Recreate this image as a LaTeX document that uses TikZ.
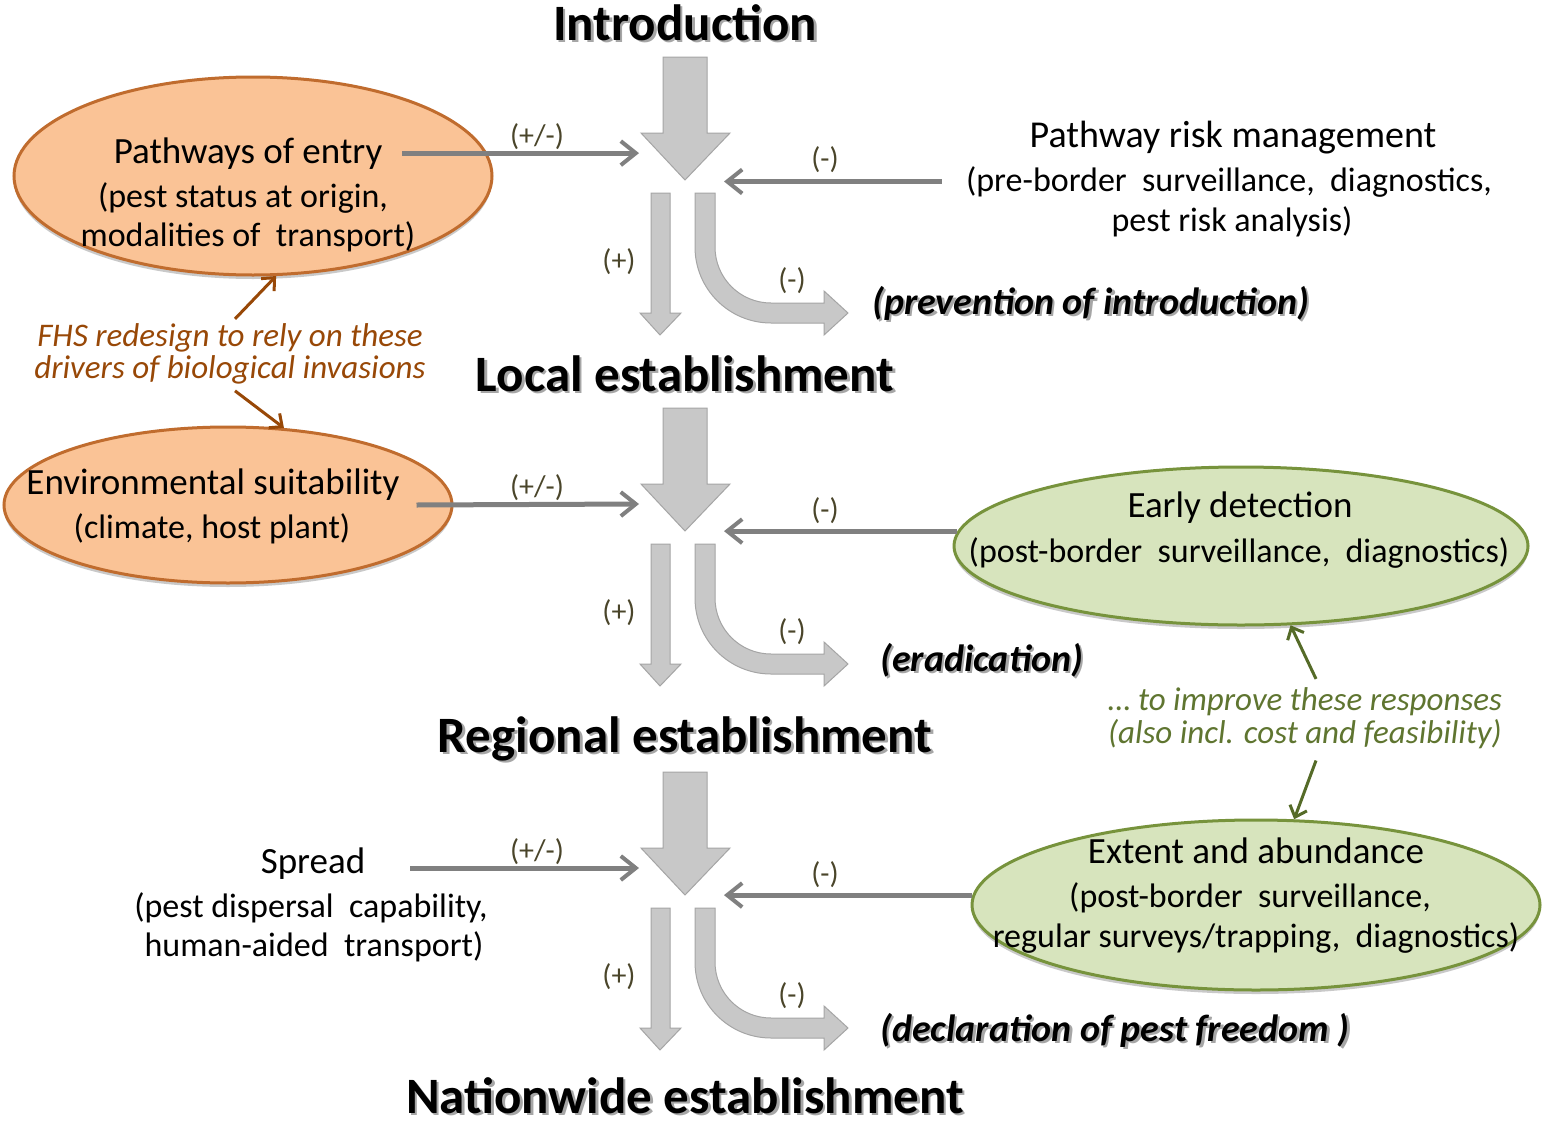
\documentclass[tikz,border=0pt]{standalone}
\usepackage{fontspec}
\setmainfont{Carlito}
\usetikzlibrary{arrows.meta,shapes.geometric,shadows,calc}

\definecolor{arrowfill}{RGB}{200,200,200}
\definecolor{arrowedge}{RGB}{165,165,165}
\definecolor{connline}{RGB}{128,128,128}
\definecolor{signcol}{RGB}{74,69,42}
\definecolor{orfill}{RGB}{250,195,150}
\definecolor{oredge}{RGB}{192,108,46}
\definecolor{ortext}{RGB}{152,72,7}
\definecolor{grfill}{RGB}{215,228,189}
\definecolor{gredge}{RGB}{119,147,60}
\definecolor{grtext}{RGB}{95,117,48}
\definecolor{grarrow}{RGB}{85,107,40}

\newcommand\fsz[1]{\fontsize{#1}{#1}\selectfont}
\newcommand\shadowed[1]{\makebox[0pt][l]{\raisebox{-2.5pt}{\hspace{2.5pt}\textcolor{black!35}{#1}}}#1}

\begin{document}
\begin{tikzpicture}[x=1pt,y=-1pt,
  stage/.style={font=\fsz{51}\bfseries, anchor=base, inner sep=0pt},
  result/.style={font=\fsz{38}\bfseries\itshape, anchor=base west, inner sep=0pt},
  mainlbl/.style={font=\fsz{37}, anchor=base, inner sep=0pt},
  sublbl/.style={font=\fsz{34}, anchor=base, inner sep=0pt},
  sign/.style={font=\fsz{30}, text=signcol, inner sep=0pt},
  note/.style={font=\fsz{33}\itshape, anchor=base, inner sep=0pt},
  orell/.style={ellipse, fill=orfill, draw=oredge, line width=3pt,
    drop shadow={shadow xshift=0pt, shadow yshift=-4pt, opacity=.35, fill=black!60}},
  grell/.style={ellipse, fill=grfill, draw=gredge, line width=3pt,
    drop shadow={shadow xshift=0pt, shadow yshift=-4pt, opacity=.35, fill=black!60}},
  blockarrow/.style={fill=arrowfill, draw=arrowedge, line width=1pt},
  conn/.style={draw=connline, line width=5pt,
    -{Straight Barb[length=15pt, width=24pt, line width=4pt]}},
  fhsarrow/.style={draw=ortext, line width=3pt,
    -{Straight Barb[length=10pt, width=18pt, line width=3pt]}},
  grnarrow/.style={draw=grarrow, line width=3pt,
    -{Straight Barb[length=10pt, width=18pt, line width=3pt]}}
]
% canvas
\fill[white] (0,0) rectangle (1545,1127);
\useasboundingbox (0,0) rectangle (1545,1127);

% driver and response ellipses
\node[orell, minimum width=478pt, minimum height=198pt] (pw) at (253,176) {};
\node[orell, minimum width=448pt, minimum height=156pt] (env) at (228,505) {};
\node[grell, minimum width=574pt, minimum height=158pt] (ed) at (1241,546) {};
\node[grell, minimum width=568pt, minimum height=170pt] (ea) at (1256,905) {};

% the three stages: big arrow, split into (+) and (-) branches
\foreach \dy/\k in {0/1,351/2,715/3}{
  \fill[blockarrow] (663,57+\dy) -- (707,57+\dy) -- (707,133+\dy) -- (730,133+\dy)
    -- (685,180+\dy) -- (641,133+\dy) -- (663,133+\dy) -- cycle;
  \fill[blockarrow] (651,193+\dy) -- (670,193+\dy) -- (670,313+\dy) -- (681,313+\dy)
    -- (660,335+\dy) -- (640,313+\dy) -- (651,313+\dy) -- cycle;
  \fill[blockarrow] (695,193+\dy) -- (715,193+\dy) -- (715,247+\dy)
    .. controls (715,278+\dy) and (740,303+\dy) .. (771,303+\dy)
    -- (824,303+\dy) -- (824,291+\dy) -- (848,313+\dy) -- (824,335+\dy)
    -- (824,323+\dy) -- (771,323+\dy)
    .. controls (729,323+\dy) and (695,289+\dy) .. (695,247+\dy) -- cycle;
  \coordinate (inL\k) at (639,153+\dy);
  \coordinate (inR\k) at (724,181+\dy);
  \node[sign] (pm\k) at (537,137+\dy) {(+/-)};
  \node[sign] (mr\k) at (825,160+\dy) {(-)};
  \node[sign] (pl\k) at (619,262+\dy) {(+)};
  \node[sign] (mc\k) at (792,281+\dy) {(-)};
}

% stage titles
\node[stage] (t1) at (685,40) {\shadowed{Introduction}};
\node[stage] (t2) at (685,391) {\shadowed{Local establishment}};
\node[stage] (t3) at (685,752) {\shadowed{Regional establishment}};
\node[stage] (t4) at (685,1113) {\shadowed{Nationwide establishment}};

% outcomes of the (-) branches
\node[result] (r1) at (872,314) {\shadowed{(prevention of introduction)}};
\node[result] (r2) at (880,671) {\shadowed{(eradication)}};
\node[result] (r3) at (880,1041) {\shadowed{(declaration of pest freedom )}};

% drivers
\node[mainlbl] (pwt) at (248,163) {Pathways of entry};
\node[sublbl] (pws1) at (243,207) {(pest status at origin,};
\node[sublbl] (pws2) at (248,246) {modalities of\ \ transport)};
\node[mainlbl] (envt) at (213,494) {Environmental suitability};
\node[sublbl] (envs) at (212,538) {(climate, host plant)};
\node[mainlbl] (spt) at (313,873) {Spread};
\node[sublbl] (sps1) at (311,917) {(pest dispersal\ \ capability,};
\node[sublbl] (sps2) at (314,956) {human-aided\ \ transport)};

% responses
\node[mainlbl, font=\fsz{38}] (prm) at (1233,147) {Pathway risk management};
\node[sublbl] (prm1) at (1229,191) {(pre-border\ \ surveillance,\ \ diagnostics,};
\node[sublbl] (prm2) at (1232,231) {pest risk analysis)};
\node[mainlbl] (edt) at (1240,517) {Early detection};
\node[sublbl] (eds) at (1239,562) {(post-border\ \ surveillance,\ \ diagnostics)};
\node[mainlbl] (eat) at (1256,863) {Extent and abundance};
\node[sublbl] (eas1) at (1250,907) {(post-border\ \ surveillance,};
\node[sublbl] (eas2) at (1256,947) {regular surveys/trapping,\ \ diagnostics)};

% notes
\node[note, text=ortext] (fhs1) at (230,346) {FHS redesign to rely on these};
\node[note, text=ortext] (fhs2) at (230,378) {drivers of biological invasions};
\node[note, text=grtext] (gn1) at (1305,710) {\dots{} to improve these responses};
\node[note, text=grtext] (gn2) at (1305,743) {(also incl. cost and feasibility)};

% driver connectors
\draw[conn] ([xshift=20pt]pwt.east) -- (inL1 |- pwt.east);
\draw[conn] ([xshift=-37pt]env.east) -- (inL2);
\draw[conn] ([xshift=45pt]spt.east |- inL3) -- (inL3);

% response connectors
\draw[conn] ([xshift=-24pt]prm1.west) -- (inR1 |- prm1.west);
\draw[conn] (ed.177) -- (inR2 |- ed.177);
\draw[conn] (ea.178) -- (inR3 |- ea.178);

% note arrows
\draw[fhsarrow] ([xshift=5pt,yshift=4pt]fhs1.north) -- (pw.-77);
\draw[fhsarrow] ([xshift=5pt,yshift=-7pt]fhs2.south) -- (env.54);
\draw[grnarrow] ([xshift=11pt,yshift=8pt]gn1.north) -- (ed.-58);
\draw[grnarrow] ([xshift=11pt,yshift=-12pt]gn2.south) -- (ea.66);
\end{tikzpicture}
\end{document}
